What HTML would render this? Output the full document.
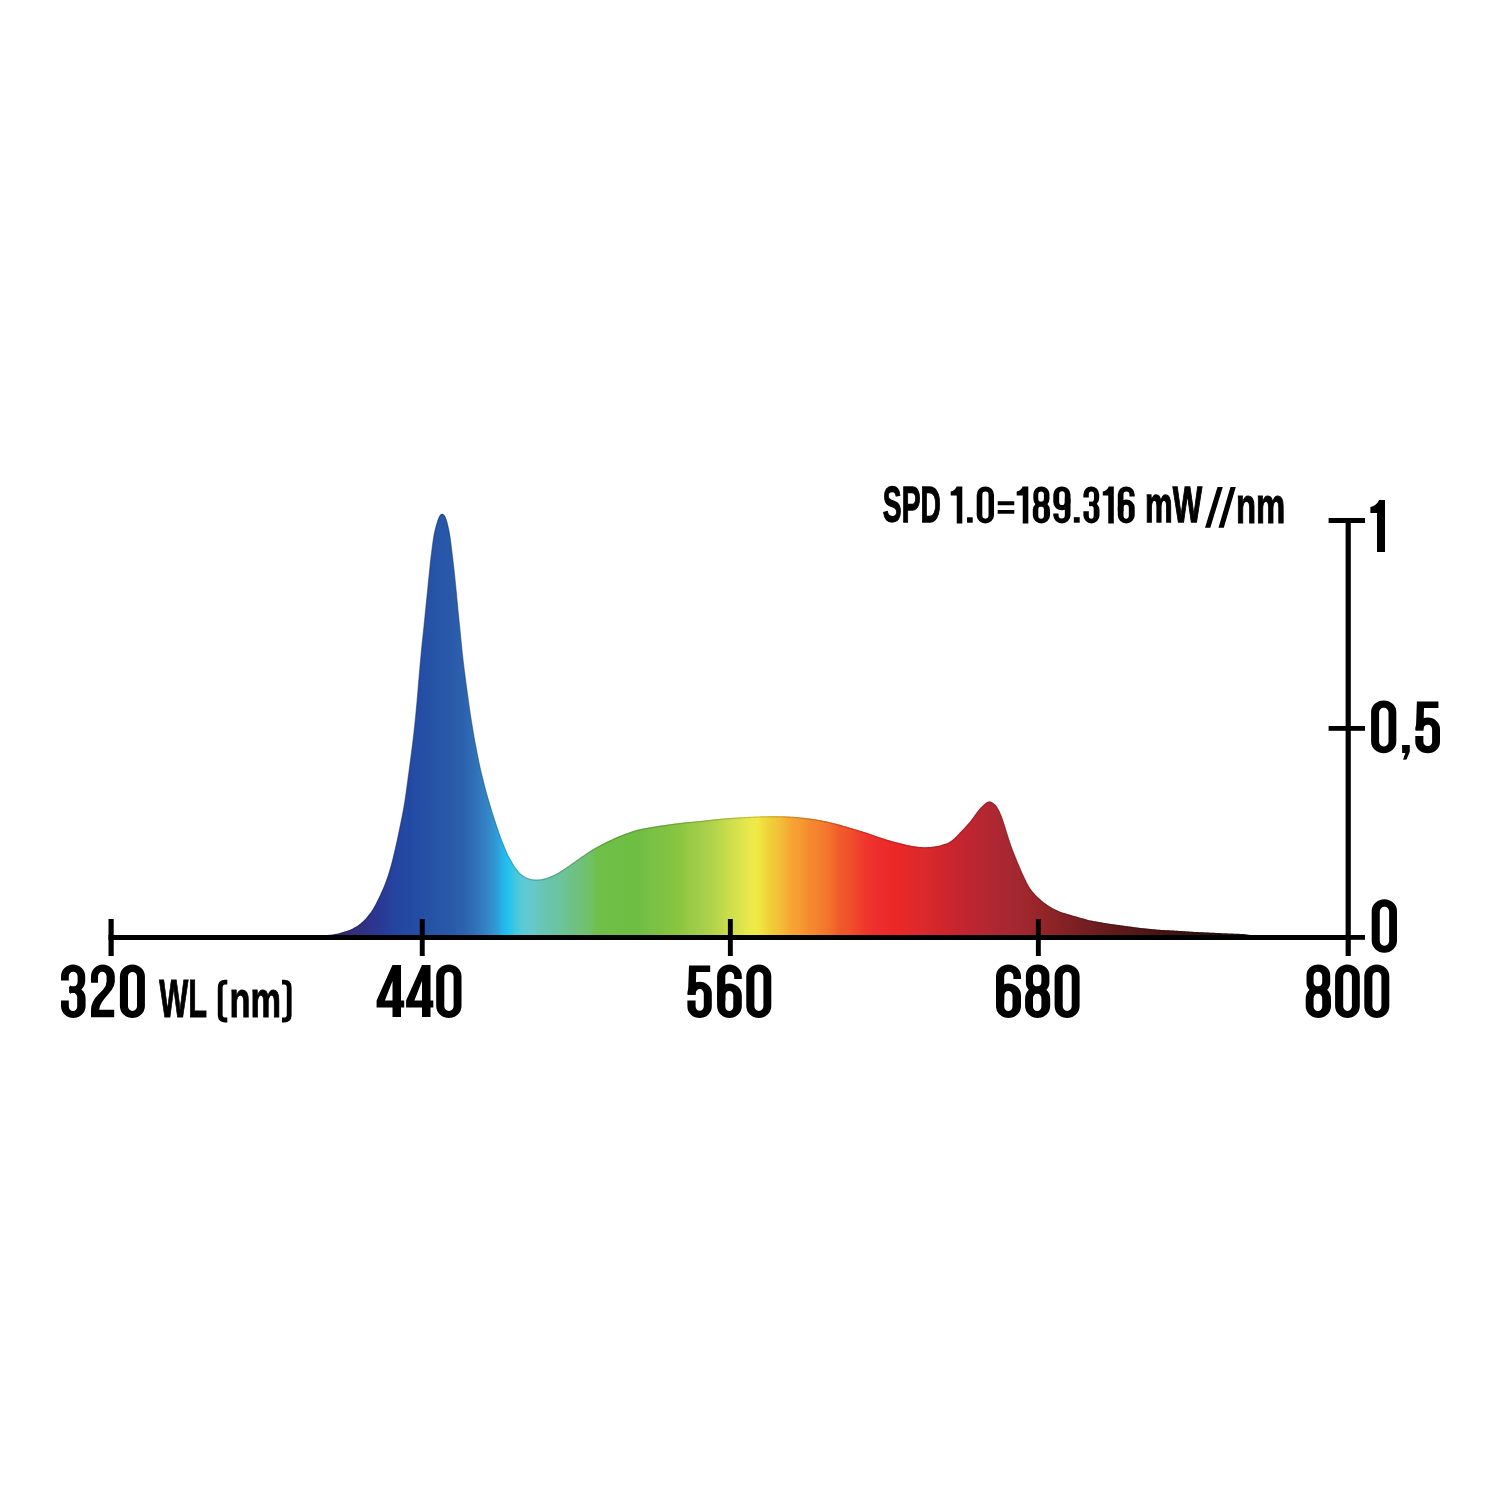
<!DOCTYPE html>
<html><head><meta charset="utf-8"><style>
html,body{margin:0;padding:0;background:#fff;width:1500px;height:1500px;overflow:hidden}
svg{display:block;will-change:transform}
text{font-family:"Liberation Sans",sans-serif;font-weight:bold;fill:#000}
</style></head><body>
<svg width="1500" height="1500" viewBox="0 0 1500 1500">
<defs>
<linearGradient id="g" gradientUnits="userSpaceOnUse" x1="316" y1="0" x2="1252" y2="0">
<stop offset="0.0000" stop-color="#2a2458"/>
<stop offset="0.0203" stop-color="#2c2763"/>
<stop offset="0.0310" stop-color="#322c72"/>
<stop offset="0.0417" stop-color="#30307c"/>
<stop offset="0.0524" stop-color="#2e3286"/>
<stop offset="0.0630" stop-color="#2c3690"/>
<stop offset="0.0737" stop-color="#283c98"/>
<stop offset="0.0844" stop-color="#2444a0"/>
<stop offset="0.0951" stop-color="#2349a2"/>
<stop offset="0.1111" stop-color="#244ea5"/>
<stop offset="0.1271" stop-color="#2754a7"/>
<stop offset="0.1432" stop-color="#2958a9"/>
<stop offset="0.1592" stop-color="#2d63ae"/>
<stop offset="0.1699" stop-color="#3070b8"/>
<stop offset="0.1827" stop-color="#3484c6"/>
<stop offset="0.1934" stop-color="#2e9dd8"/>
<stop offset="0.1987" stop-color="#2ab0e6"/>
<stop offset="0.2051" stop-color="#20c3f1"/>
<stop offset="0.2137" stop-color="#45c8dc"/>
<stop offset="0.2222" stop-color="#5ecad8"/>
<stop offset="0.2308" stop-color="#66c8cb"/>
<stop offset="0.2415" stop-color="#68c6b8"/>
<stop offset="0.2500" stop-color="#69c4ac"/>
<stop offset="0.2607" stop-color="#6cc49b"/>
<stop offset="0.2714" stop-color="#6ec28a"/>
<stop offset="0.2821" stop-color="#6fc17a"/>
<stop offset="0.2927" stop-color="#70c166"/>
<stop offset="0.3002" stop-color="#70bf4c"/>
<stop offset="0.3088" stop-color="#6fbe45"/>
<stop offset="0.3462" stop-color="#6fbe44"/>
<stop offset="0.3568" stop-color="#78c046"/>
<stop offset="0.3729" stop-color="#80c243"/>
<stop offset="0.3889" stop-color="#8ac63f"/>
<stop offset="0.3996" stop-color="#98cb46"/>
<stop offset="0.4103" stop-color="#a3cd4a"/>
<stop offset="0.4263" stop-color="#b4d44b"/>
<stop offset="0.4370" stop-color="#c5db4b"/>
<stop offset="0.4476" stop-color="#d4e04c"/>
<stop offset="0.4583" stop-color="#e3e64c"/>
<stop offset="0.4658" stop-color="#eee94b"/>
<stop offset="0.4722" stop-color="#f0e944"/>
<stop offset="0.4797" stop-color="#f0d93e"/>
<stop offset="0.4850" stop-color="#efcf38"/>
<stop offset="0.4957" stop-color="#f2bf38"/>
<stop offset="0.5064" stop-color="#f6a734"/>
<stop offset="0.5171" stop-color="#f79a31"/>
<stop offset="0.5278" stop-color="#f58a2f"/>
<stop offset="0.5385" stop-color="#f47f2e"/>
<stop offset="0.5491" stop-color="#f3702d"/>
<stop offset="0.5598" stop-color="#ef5a2c"/>
<stop offset="0.5705" stop-color="#f0502a"/>
<stop offset="0.5812" stop-color="#ef3f2b"/>
<stop offset="0.5919" stop-color="#ee322c"/>
<stop offset="0.6026" stop-color="#ec2c2d"/>
<stop offset="0.6186" stop-color="#ec2826"/>
<stop offset="0.6346" stop-color="#e3282a"/>
<stop offset="0.6506" stop-color="#da292b"/>
<stop offset="0.6667" stop-color="#d2262b"/>
<stop offset="0.6827" stop-color="#c8252f"/>
<stop offset="0.6987" stop-color="#be2530"/>
<stop offset="0.7147" stop-color="#b42732"/>
<stop offset="0.7308" stop-color="#ab2732"/>
<stop offset="0.7521" stop-color="#a22830"/>
<stop offset="0.7735" stop-color="#962529"/>
<stop offset="0.7949" stop-color="#862226"/>
<stop offset="0.8162" stop-color="#781f22"/>
<stop offset="0.8376" stop-color="#6a1c1f"/>
<stop offset="0.8697" stop-color="#581818"/>
<stop offset="0.9017" stop-color="#461414"/>
<stop offset="0.9444" stop-color="#341010"/>
<stop offset="0.9872" stop-color="#220b0b"/>
<stop offset="1.0000" stop-color="#1e0a0a"/>
</linearGradient>
<linearGradient id="g2" gradientUnits="userSpaceOnUse" x1="316" y1="0" x2="1252" y2="0">
<stop offset="0.0000" stop-color="#1e193f"/>
<stop offset="0.0203" stop-color="#1f1c47"/>
<stop offset="0.0310" stop-color="#241f52"/>
<stop offset="0.0417" stop-color="#222259"/>
<stop offset="0.0524" stop-color="#212460"/>
<stop offset="0.0630" stop-color="#1f2667"/>
<stop offset="0.0737" stop-color="#1c2b6d"/>
<stop offset="0.0844" stop-color="#193073"/>
<stop offset="0.0951" stop-color="#193474"/>
<stop offset="0.1111" stop-color="#193876"/>
<stop offset="0.1271" stop-color="#1c3c78"/>
<stop offset="0.1432" stop-color="#1d3f79"/>
<stop offset="0.1592" stop-color="#20477d"/>
<stop offset="0.1699" stop-color="#225084"/>
<stop offset="0.1827" stop-color="#255f8e"/>
<stop offset="0.1934" stop-color="#21719b"/>
<stop offset="0.1987" stop-color="#1e7ea5"/>
<stop offset="0.2051" stop-color="#178cad"/>
<stop offset="0.2137" stop-color="#31909e"/>
<stop offset="0.2222" stop-color="#43919b"/>
<stop offset="0.2308" stop-color="#499092"/>
<stop offset="0.2415" stop-color="#4a8e84"/>
<stop offset="0.2500" stop-color="#4b8d7b"/>
<stop offset="0.2607" stop-color="#4d8d6f"/>
<stop offset="0.2714" stop-color="#4f8b63"/>
<stop offset="0.2821" stop-color="#4f8a57"/>
<stop offset="0.2927" stop-color="#508a49"/>
<stop offset="0.3002" stop-color="#508936"/>
<stop offset="0.3088" stop-color="#4f8831"/>
<stop offset="0.3462" stop-color="#4f8830"/>
<stop offset="0.3568" stop-color="#568a32"/>
<stop offset="0.3729" stop-color="#5c8b30"/>
<stop offset="0.3889" stop-color="#638e2d"/>
<stop offset="0.3996" stop-color="#6d9232"/>
<stop offset="0.4103" stop-color="#759335"/>
<stop offset="0.4263" stop-color="#819836"/>
<stop offset="0.4370" stop-color="#8d9d36"/>
<stop offset="0.4476" stop-color="#98a136"/>
<stop offset="0.4583" stop-color="#a3a536"/>
<stop offset="0.4658" stop-color="#aba736"/>
<stop offset="0.4722" stop-color="#aca730"/>
<stop offset="0.4797" stop-color="#ac9c2c"/>
<stop offset="0.4850" stop-color="#ac9528"/>
<stop offset="0.4957" stop-color="#ae8928"/>
<stop offset="0.5064" stop-color="#b17825"/>
<stop offset="0.5171" stop-color="#b16e23"/>
<stop offset="0.5278" stop-color="#b06321"/>
<stop offset="0.5385" stop-color="#af5b21"/>
<stop offset="0.5491" stop-color="#ae5020"/>
<stop offset="0.5598" stop-color="#ac401f"/>
<stop offset="0.5705" stop-color="#ac391e"/>
<stop offset="0.5812" stop-color="#ac2d1e"/>
<stop offset="0.5919" stop-color="#ab241f"/>
<stop offset="0.6026" stop-color="#a91f20"/>
<stop offset="0.6186" stop-color="#a91c1b"/>
<stop offset="0.6346" stop-color="#a31c1e"/>
<stop offset="0.6506" stop-color="#9c1d1e"/>
<stop offset="0.6667" stop-color="#971b1e"/>
<stop offset="0.6827" stop-color="#901a21"/>
<stop offset="0.6987" stop-color="#881a22"/>
<stop offset="0.7147" stop-color="#811c24"/>
<stop offset="0.7308" stop-color="#7b1c24"/>
<stop offset="0.7521" stop-color="#741c22"/>
<stop offset="0.7735" stop-color="#6c1a1d"/>
<stop offset="0.7949" stop-color="#60181b"/>
<stop offset="0.8162" stop-color="#561618"/>
<stop offset="0.8376" stop-color="#4c1416"/>
<stop offset="0.8697" stop-color="#3f1111"/>
<stop offset="0.9017" stop-color="#320e0e"/>
<stop offset="0.9444" stop-color="#250b0b"/>
<stop offset="0.9872" stop-color="#180707"/>
<stop offset="1.0000" stop-color="#150707"/>
</linearGradient>
</defs>
<rect width="1500" height="1500" fill="#fff"/>
<path d="M316.0,935.44 L317.0,935.42 L318.0,935.39 L319.0,935.35 L320.0,935.30 L321.0,935.25 L322.0,935.20 L323.0,935.15 L324.0,935.10 L325.0,935.05 L326.0,935.00 L327.0,934.95 L328.0,934.90 L329.0,934.85 L330.0,934.79 L331.0,934.71 L332.0,934.60 L333.0,934.45 L334.0,934.26 L335.0,934.06 L336.0,933.85 L337.0,933.64 L338.0,933.42 L339.0,933.19 L340.0,932.95 L341.0,932.68 L342.0,932.39 L343.0,932.10 L344.0,931.80 L345.0,931.50 L346.0,931.20 L347.0,930.90 L348.0,930.58 L349.0,930.25 L350.0,929.86 L351.0,929.41 L352.0,928.90 L353.0,928.38 L354.0,927.84 L355.0,927.30 L356.0,926.75 L357.0,926.18 L358.0,925.56 L359.0,924.86 L360.0,924.07 L361.0,923.21 L362.0,922.31 L363.0,921.41 L364.0,920.48 L365.0,919.52 L366.0,918.46 L367.0,917.31 L368.0,916.08 L369.0,914.80 L370.0,913.49 L371.0,912.15 L372.0,910.73 L373.0,909.16 L374.0,907.45 L375.0,905.63 L376.0,903.75 L377.0,901.83 L378.0,899.86 L379.0,897.82 L380.0,895.72 L381.0,893.58 L382.0,891.37 L383.0,889.08 L384.0,886.68 L385.0,884.18 L386.0,881.58 L387.0,878.84 L388.0,875.93 L389.0,872.85 L390.0,869.58 L391.0,866.08 L392.0,862.35 L393.0,858.39 L394.0,854.24 L395.0,849.99 L396.0,845.61 L397.0,841.13 L398.0,836.49 L399.0,831.70 L400.0,826.84 L401.0,821.93 L402.0,816.97 L403.0,811.87 L404.0,806.43 L405.0,800.31 L406.0,793.48 L407.0,786.23 L408.0,778.85 L409.0,771.41 L410.0,763.92 L411.0,756.38 L412.0,748.74 L413.0,740.78 L414.0,732.16 L415.0,722.74 L416.0,712.67 L417.0,701.89 L418.0,690.32 L419.0,678.34 L420.0,666.60 L421.0,655.50 L422.0,645.22 L423.0,635.70 L424.0,626.29 L425.0,616.28 L426.0,606.12 L427.0,596.39 L428.0,586.53 L429.0,576.26 L430.0,566.41 L431.0,557.47 L432.0,549.18 L433.0,541.70 L434.0,534.99 L435.0,530.32 L436.0,526.53 L437.0,523.07 L438.0,519.80 L439.0,517.13 L440.0,515.34 L441.0,514.20 L442.0,513.69 L443.0,513.98 L444.0,514.88 L445.0,516.35 L446.0,518.70 L447.0,522.10 L448.0,526.19 L449.0,530.77 L450.0,536.57 L451.0,544.48 L452.0,552.64 L453.0,561.09 L454.0,569.87 L455.0,579.28 L456.0,589.36 L457.0,599.94 L458.0,610.51 L459.0,620.51 L460.0,630.33 L461.0,640.49 L462.0,650.54 L463.0,659.71 L464.0,667.93 L465.0,675.63 L466.0,683.16 L467.0,690.60 L468.0,697.96 L469.0,705.17 L470.0,712.06 L471.0,718.54 L472.0,724.75 L473.0,730.80 L474.0,736.66 L475.0,742.21 L476.0,747.43 L477.0,752.49 L478.0,757.48 L479.0,762.38 L480.0,767.07 L481.0,771.44 L482.0,775.57 L483.0,779.59 L484.0,783.57 L485.0,787.47 L486.0,791.21 L487.0,794.76 L488.0,798.20 L489.0,801.60 L490.0,804.99 L491.0,808.36 L492.0,811.66 L493.0,814.84 L494.0,817.93 L495.0,820.97 L496.0,824.00 L497.0,827.02 L498.0,830.03 L499.0,832.97 L500.0,835.76 L501.0,838.40 L502.0,840.93 L503.0,843.43 L504.0,845.92 L505.0,848.40 L506.0,850.83 L507.0,853.11 L508.0,855.16 L509.0,857.02 L510.0,858.79 L511.0,860.54 L512.0,862.28 L513.0,864.01 L514.0,865.67 L515.0,867.19 L516.0,868.55 L517.0,869.81 L518.0,871.03 L519.0,872.20 L520.0,873.23 L521.0,874.09 L522.0,874.82 L523.0,875.50 L524.0,876.16 L525.0,876.78 L526.0,877.33 L527.0,877.75 L528.0,878.09 L529.0,878.40 L530.0,878.71 L531.0,878.92 L532.0,879.15 L533.0,879.34 L534.0,879.47 L535.0,879.55 L536.0,879.59 L537.0,879.59 L538.0,879.55 L539.0,879.48 L540.0,879.38 L541.0,879.23 L542.0,879.05 L543.0,878.84 L544.0,878.60 L545.0,878.34 L546.0,878.06 L547.0,877.74 L548.0,877.41 L549.0,877.04 L550.0,876.66 L551.0,876.26 L552.0,875.83 L553.0,875.40 L554.0,874.94 L555.0,874.46 L556.0,873.97 L557.0,873.47 L558.0,872.94 L559.0,872.39 L560.0,871.59 L561.0,871.00 L562.0,870.38 L563.0,869.75 L564.0,869.10 L565.0,868.44 L566.0,867.77 L567.0,867.09 L568.0,866.40 L569.0,865.71 L570.0,865.01 L571.0,864.32 L572.0,863.62 L573.0,862.92 L574.0,862.21 L575.0,861.51 L576.0,860.81 L577.0,860.11 L578.0,859.41 L579.0,858.71 L580.0,858.01 L581.0,857.31 L582.0,856.61 L583.0,855.91 L584.0,855.22 L585.0,854.53 L586.0,853.85 L587.0,853.17 L588.0,852.50 L589.0,851.84 L590.0,851.19 L591.0,850.55 L592.0,849.93 L593.0,849.32 L594.0,848.72 L595.0,848.13 L596.0,847.56 L597.0,847.00 L598.0,846.45 L599.0,845.91 L600.0,845.38 L601.0,844.85 L602.0,844.33 L603.0,843.82 L604.0,843.31 L605.0,842.81 L606.0,842.31 L607.0,841.81 L608.0,841.32 L609.0,840.84 L610.0,840.36 L611.0,839.89 L612.0,839.42 L613.0,838.96 L614.0,838.50 L615.0,838.06 L616.0,837.62 L617.0,837.19 L618.0,836.76 L619.0,836.34 L620.0,835.93 L621.0,835.53 L622.0,835.13 L623.0,834.74 L624.0,834.36 L625.0,833.98 L626.0,833.61 L627.0,833.24 L628.0,832.88 L629.0,832.52 L630.0,832.18 L631.0,831.84 L632.0,831.50 L633.0,831.18 L634.0,830.87 L635.0,830.57 L636.0,830.28 L637.0,830.00 L638.0,829.73 L639.0,829.48 L640.0,829.24 L641.0,829.01 L642.0,828.79 L643.0,828.58 L644.0,828.38 L645.0,828.19 L646.0,828.00 L647.0,827.82 L648.0,827.64 L649.0,827.46 L650.0,827.29 L651.0,827.13 L652.0,826.96 L653.0,826.80 L654.0,826.64 L655.0,826.48 L656.0,826.32 L657.0,826.16 L658.0,826.01 L659.0,825.86 L660.0,825.71 L661.0,825.56 L662.0,825.41 L663.0,825.26 L664.0,825.12 L665.0,824.97 L666.0,824.83 L667.0,824.69 L668.0,824.54 L669.0,824.40 L670.0,824.27 L671.0,824.13 L672.0,823.99 L673.0,823.86 L674.0,823.72 L675.0,823.59 L676.0,823.46 L677.0,823.34 L678.0,823.21 L679.0,823.09 L680.0,822.98 L681.0,822.86 L682.0,822.75 L683.0,822.64 L684.0,822.53 L685.0,822.43 L686.0,822.32 L687.0,822.22 L688.0,822.12 L689.0,822.02 L690.0,821.92 L691.0,821.83 L692.0,821.73 L693.0,821.63 L694.0,821.53 L695.0,821.44 L696.0,821.34 L697.0,821.24 L698.0,821.14 L699.0,821.04 L700.0,820.95 L701.0,820.85 L702.0,820.75 L703.0,820.64 L704.0,820.54 L705.0,820.44 L706.0,820.33 L707.0,820.22 L708.0,820.11 L709.0,820.00 L710.0,819.89 L711.0,819.77 L712.0,819.66 L713.0,819.54 L714.0,819.43 L715.0,819.32 L716.0,819.21 L717.0,819.10 L718.0,818.99 L719.0,818.89 L720.0,818.79 L721.0,818.69 L722.0,818.60 L723.0,818.51 L724.0,818.43 L725.0,818.34 L726.0,818.26 L727.0,818.19 L728.0,818.11 L729.0,818.03 L730.0,817.96 L731.0,817.89 L732.0,817.82 L733.0,817.75 L734.0,817.68 L735.0,817.62 L736.0,817.55 L737.0,817.49 L738.0,817.43 L739.0,817.37 L740.0,817.31 L741.0,817.25 L742.0,817.19 L743.0,817.13 L744.0,817.08 L745.0,817.02 L746.0,816.97 L747.0,816.91 L748.0,816.86 L749.0,816.81 L750.0,816.76 L751.0,816.72 L752.0,816.67 L753.0,816.62 L754.0,816.58 L755.0,816.54 L756.0,816.49 L757.0,816.45 L758.0,816.42 L759.0,816.38 L760.0,816.35 L761.0,816.31 L762.0,816.28 L763.0,816.25 L764.0,816.23 L765.0,816.20 L766.0,816.18 L767.0,816.16 L768.0,816.14 L769.0,816.12 L770.0,816.11 L771.0,816.10 L772.0,816.09 L773.0,816.09 L774.0,816.09 L775.0,816.10 L776.0,816.10 L777.0,816.12 L778.0,816.13 L779.0,816.15 L780.0,816.17 L781.0,816.20 L782.0,816.22 L783.0,816.25 L784.0,816.29 L785.0,816.33 L786.0,816.37 L787.0,816.42 L788.0,816.47 L789.0,816.53 L790.0,816.59 L791.0,816.66 L792.0,816.72 L793.0,816.80 L794.0,816.87 L795.0,816.95 L796.0,817.03 L797.0,817.11 L798.0,817.20 L799.0,817.29 L800.0,817.39 L801.0,817.49 L802.0,817.59 L803.0,817.70 L804.0,817.81 L805.0,817.93 L806.0,818.04 L807.0,818.16 L808.0,818.29 L809.0,818.42 L810.0,818.55 L811.0,818.69 L812.0,818.83 L813.0,818.97 L814.0,819.12 L815.0,819.28 L816.0,819.44 L817.0,819.61 L818.0,819.78 L819.0,819.95 L820.0,820.13 L821.0,820.31 L822.0,820.50 L823.0,820.69 L824.0,820.89 L825.0,821.09 L826.0,821.30 L827.0,821.52 L828.0,821.74 L829.0,821.97 L830.0,822.20 L831.0,822.44 L832.0,822.69 L833.0,822.94 L834.0,823.19 L835.0,823.45 L836.0,823.71 L837.0,823.97 L838.0,824.24 L839.0,824.51 L840.0,824.79 L841.0,825.07 L842.0,825.35 L843.0,825.64 L844.0,825.93 L845.0,826.22 L846.0,826.52 L847.0,826.81 L848.0,827.11 L849.0,827.41 L850.0,827.71 L851.0,828.01 L852.0,828.31 L853.0,828.61 L854.0,828.91 L855.0,829.21 L856.0,829.51 L857.0,829.81 L858.0,830.11 L859.0,830.41 L860.0,830.71 L861.0,831.02 L862.0,831.33 L863.0,831.64 L864.0,831.96 L865.0,832.28 L866.0,832.61 L867.0,832.94 L868.0,833.28 L869.0,833.62 L870.0,833.97 L871.0,834.32 L872.0,834.67 L873.0,835.03 L874.0,835.38 L875.0,835.74 L876.0,836.09 L877.0,836.44 L878.0,836.79 L879.0,837.13 L880.0,837.46 L881.0,837.79 L882.0,838.12 L883.0,838.44 L884.0,838.76 L885.0,839.07 L886.0,839.38 L887.0,839.68 L888.0,839.98 L889.0,840.28 L890.0,840.57 L891.0,840.86 L892.0,841.15 L893.0,841.43 L894.0,841.71 L895.0,841.98 L896.0,842.25 L897.0,842.52 L898.0,842.78 L899.0,843.04 L900.0,843.29 L901.0,843.54 L902.0,843.79 L903.0,844.03 L904.0,844.26 L905.0,844.49 L906.0,844.71 L907.0,844.93 L908.0,845.14 L909.0,845.34 L910.0,845.54 L911.0,845.73 L912.0,845.91 L913.0,846.08 L914.0,846.24 L915.0,846.40 L916.0,846.54 L917.0,846.66 L918.0,846.78 L919.0,846.88 L920.0,846.97 L921.0,847.04 L922.0,847.09 L923.0,847.13 L924.0,847.15 L925.0,847.16 L926.0,847.15 L927.0,847.13 L928.0,847.10 L929.0,847.05 L930.0,846.98 L931.0,846.91 L932.0,846.81 L933.0,846.70 L934.0,846.58 L935.0,846.44 L936.0,846.28 L937.0,846.10 L938.0,845.90 L939.0,845.68 L940.0,845.44 L941.0,845.17 L942.0,844.87 L943.0,844.54 L944.0,844.17 L945.0,843.77 L946.0,843.83 L947.0,843.37 L948.0,842.84 L949.0,842.26 L950.0,841.65 L951.0,840.99 L952.0,840.28 L953.0,839.50 L954.0,838.66 L955.0,837.76 L956.0,836.80 L957.0,835.78 L958.0,834.73 L959.0,833.66 L960.0,832.59 L961.0,831.55 L962.0,830.51 L963.0,829.49 L964.0,828.45 L965.0,827.40 L966.0,826.31 L967.0,825.20 L968.0,824.06 L969.0,822.90 L970.0,821.70 L971.0,820.46 L972.0,819.16 L973.0,817.80 L974.0,816.42 L975.0,815.02 L976.0,813.64 L977.0,812.30 L978.0,811.01 L979.0,809.78 L980.0,808.59 L981.0,807.47 L982.0,806.41 L983.0,805.43 L984.0,804.44 L985.0,803.64 L986.0,802.87 L987.0,802.22 L988.0,801.77 L989.0,801.58 L989.5,801.56 L990.0,801.59 L991.0,801.80 L992.0,802.27 L993.0,802.95 L994.0,803.72 L995.0,804.57 L996.0,805.58 L997.0,807.22 L998.0,808.79 L999.0,810.63 L1000.0,812.74 L1001.0,815.14 L1002.0,817.81 L1003.0,820.71 L1004.0,823.79 L1005.0,826.99 L1006.0,830.23 L1007.0,833.47 L1008.0,836.66 L1009.0,839.77 L1010.0,842.78 L1011.0,845.68 L1012.0,848.45 L1013.0,851.10 L1014.0,853.65 L1015.0,856.13 L1016.0,858.57 L1017.0,860.99 L1018.0,863.41 L1019.0,865.79 L1020.0,868.14 L1021.0,870.44 L1022.0,872.69 L1023.0,874.90 L1024.0,877.06 L1025.0,879.18 L1026.0,881.25 L1027.0,883.23 L1028.0,885.10 L1029.0,886.80 L1030.0,888.32 L1031.0,889.70 L1032.0,890.96 L1033.0,892.15 L1034.0,893.29 L1035.0,894.39 L1036.0,895.44 L1037.0,896.45 L1038.0,897.43 L1039.0,898.37 L1040.0,899.30 L1041.0,900.23 L1042.0,901.10 L1043.0,901.90 L1044.0,902.65 L1045.0,903.36 L1046.0,904.05 L1047.0,904.74 L1048.0,905.43 L1049.0,906.11 L1050.0,906.76 L1051.0,907.37 L1052.0,907.93 L1053.0,908.44 L1054.0,908.93 L1055.0,909.41 L1056.0,909.89 L1057.0,910.36 L1058.0,910.83 L1059.0,911.28 L1060.0,911.69 L1061.0,912.06 L1062.0,912.39 L1063.0,912.70 L1064.0,913.00 L1065.0,913.30 L1066.0,913.60 L1067.0,913.90 L1068.0,914.20 L1069.0,914.50 L1070.0,914.80 L1071.0,915.10 L1072.0,915.39 L1073.0,915.68 L1074.0,915.97 L1075.0,916.25 L1076.0,916.53 L1077.0,916.82 L1078.0,917.10 L1079.0,917.38 L1080.0,917.67 L1081.0,917.95 L1082.0,918.23 L1083.0,918.52 L1084.0,918.80 L1085.0,919.08 L1086.0,919.36 L1087.0,919.64 L1088.0,919.91 L1089.0,920.17 L1090.0,920.39 L1091.0,920.59 L1092.0,920.78 L1093.0,920.96 L1094.0,921.14 L1095.0,921.32 L1096.0,921.49 L1097.0,921.67 L1098.0,921.85 L1099.0,922.03 L1100.0,922.21 L1101.0,922.38 L1102.0,922.56 L1103.0,922.74 L1104.0,922.92 L1105.0,923.09 L1106.0,923.26 L1107.0,923.42 L1108.0,923.57 L1109.0,923.72 L1110.0,923.86 L1111.0,924.00 L1112.0,924.14 L1113.0,924.27 L1114.0,924.41 L1115.0,924.55 L1116.0,924.69 L1117.0,924.83 L1118.0,924.97 L1119.0,925.11 L1120.0,925.25 L1121.0,925.38 L1122.0,925.52 L1123.0,925.66 L1124.0,925.80 L1125.0,925.93 L1126.0,926.07 L1127.0,926.20 L1128.0,926.33 L1129.0,926.46 L1130.0,926.60 L1131.0,926.73 L1132.0,926.86 L1133.0,927.00 L1134.0,927.13 L1135.0,927.26 L1136.0,927.40 L1137.0,927.53 L1138.0,927.66 L1139.0,927.79 L1140.0,927.92 L1141.0,928.04 L1142.0,928.16 L1143.0,928.26 L1144.0,928.36 L1145.0,928.46 L1146.0,928.56 L1147.0,928.66 L1148.0,928.75 L1149.0,928.85 L1150.0,928.95 L1151.0,929.05 L1152.0,929.15 L1153.0,929.24 L1154.0,929.34 L1155.0,929.44 L1156.0,929.54 L1157.0,929.63 L1158.0,929.72 L1159.0,929.79 L1160.0,929.86 L1161.0,929.92 L1162.0,929.97 L1163.0,930.02 L1164.0,930.08 L1165.0,930.13 L1166.0,930.18 L1167.0,930.23 L1168.0,930.28 L1169.0,930.34 L1170.0,930.39 L1171.0,930.44 L1172.0,930.49 L1173.0,930.54 L1174.0,930.60 L1175.0,930.65 L1176.0,930.71 L1177.0,930.77 L1178.0,930.84 L1179.0,930.91 L1180.0,930.98 L1181.0,931.05 L1182.0,931.12 L1183.0,931.19 L1184.0,931.25 L1185.0,931.32 L1186.0,931.39 L1187.0,931.46 L1188.0,931.53 L1189.0,931.60 L1190.0,931.67 L1191.0,931.74 L1192.0,931.81 L1193.0,931.87 L1194.0,931.92 L1195.0,931.98 L1196.0,932.02 L1197.0,932.07 L1198.0,932.12 L1199.0,932.16 L1200.0,932.21 L1201.0,932.25 L1202.0,932.30 L1203.0,932.35 L1204.0,932.39 L1205.0,932.44 L1206.0,932.48 L1207.0,932.53 L1208.0,932.58 L1209.0,932.62 L1210.0,932.67 L1211.0,932.71 L1212.0,932.75 L1213.0,932.79 L1214.0,932.83 L1215.0,932.87 L1216.0,932.91 L1217.0,932.95 L1218.0,933.00 L1219.0,933.04 L1220.0,933.08 L1221.0,933.12 L1222.0,933.16 L1223.0,933.20 L1224.0,933.24 L1225.0,933.28 L1226.0,933.32 L1227.0,933.36 L1228.0,933.40 L1229.0,933.44 L1230.0,933.48 L1231.0,933.52 L1232.0,933.56 L1233.0,933.60 L1234.0,933.64 L1235.0,933.68 L1236.0,933.72 L1237.0,933.76 L1238.0,933.80 L1239.0,933.85 L1240.0,933.89 L1241.0,933.93 L1242.0,933.97 L1243.0,934.01 L1244.0,934.07 L1245.0,934.17 L1246.0,934.30 L1247.0,934.47 L1248.0,934.66 L1249.0,934.86 L1250.0,935.03 L1251.0,935.17 L1252.0,935.27 L1252.0,937 L316.0,937 Z" fill="url(#g)"/>
<path d="M340.0,933.65 L341.0,933.38 L342.0,933.09 L343.0,932.80 L344.0,932.50 L345.0,932.20 L346.0,931.90 L347.0,931.60 L348.0,931.28 L349.0,930.95 L350.0,930.56 L351.0,930.11 L352.0,929.60 L353.0,929.08 L354.0,928.54 L355.0,928.00 L356.0,927.45 L357.0,926.88 L358.0,926.26 L359.0,925.56 L360.0,924.77 L361.0,923.91 L362.0,923.01 L363.0,922.11 L364.0,921.18 L365.0,920.22 L366.0,919.16 L367.0,918.01 L368.0,916.78 L369.0,915.50 L370.0,914.19 L371.0,912.85 L372.0,911.43 L373.0,909.86 L374.0,908.15 L375.0,906.33 L376.0,904.45 L377.0,902.53 L378.0,900.56 L379.0,898.52 L380.0,896.42 L381.0,894.28 L382.0,892.07 L383.0,889.78 L384.0,887.38 L385.0,884.88 L386.0,882.28 L387.0,879.54 L388.0,876.63 L389.0,873.55 L390.0,870.28 L391.0,866.78 L392.0,863.05 L393.0,859.09 L394.0,854.94 L395.0,850.69 L396.0,846.31 L397.0,841.83 L398.0,837.19 L399.0,832.40 L400.0,827.54 L401.0,822.63 L402.0,817.67 L403.0,812.57 L404.0,807.13 L405.0,801.01 L406.0,794.18 L407.0,786.93 L408.0,779.55 L409.0,772.11 L410.0,764.62 L411.0,757.08 L412.0,749.44 L413.0,741.48 L414.0,732.86 L415.0,723.44 L416.0,713.37 L417.0,702.59 L418.0,691.02 L419.0,679.04 L420.0,667.30 L421.0,656.20 L422.0,645.92 L423.0,636.40 L424.0,626.99 L425.0,616.98 L426.0,606.82 L427.0,597.09 L428.0,587.23 L429.0,576.96 L430.0,567.11 L431.0,558.17 L432.0,549.88 L433.0,542.40 L434.0,535.69 L435.0,531.02 L436.0,527.23 L437.0,523.77 L438.0,520.50 L439.0,517.83 L440.0,516.04 L441.0,514.90 L442.0,514.39 L443.0,514.68 L444.0,515.58 L445.0,517.05 L446.0,519.40 L447.0,522.80 L448.0,526.89 L449.0,531.47 L450.0,537.27 L451.0,545.18 L452.0,553.34 L453.0,561.79 L454.0,570.57 L455.0,579.98 L456.0,590.06 L457.0,600.64 L458.0,611.21 L459.0,621.21 L460.0,631.03 L461.0,641.19 L462.0,651.24 L463.0,660.41 L464.0,668.63 L465.0,676.33 L466.0,683.86 L467.0,691.30 L468.0,698.66 L469.0,705.87 L470.0,712.76 L471.0,719.24 L472.0,725.45 L473.0,731.50 L474.0,737.36 L475.0,742.91 L476.0,748.13 L477.0,753.19 L478.0,758.18 L479.0,763.08 L480.0,767.77 L481.0,772.14 L482.0,776.27 L483.0,780.29 L484.0,784.27 L485.0,788.17 L486.0,791.91 L487.0,795.46 L488.0,798.90 L489.0,802.30 L490.0,805.69 L491.0,809.06 L492.0,812.36 L493.0,815.54 L494.0,818.63 L495.0,821.67 L496.0,824.70 L497.0,827.72 L498.0,830.73 L499.0,833.67 L500.0,836.46 L501.0,839.10 L502.0,841.63 L503.0,844.13 L504.0,846.62 L505.0,849.10 L506.0,851.53 L507.0,853.81 L508.0,855.86 L509.0,857.72 L510.0,859.49 L511.0,861.24 L512.0,862.98 L513.0,864.71 L514.0,866.37 L515.0,867.89 L516.0,869.25 L517.0,870.51 L518.0,871.73 L519.0,872.90 L520.0,873.93 L521.0,874.79 L522.0,875.52 L523.0,876.20 L524.0,876.86 L525.0,877.48 L526.0,878.03 L527.0,878.45 L528.0,878.79 L529.0,879.10 L530.0,879.41 L531.0,879.62 L532.0,879.85 L533.0,880.04 L534.0,880.17 L535.0,880.25 L536.0,880.29 L537.0,880.29 L538.0,880.25 L539.0,880.18 L540.0,880.08 L541.0,879.93 L542.0,879.75 L543.0,879.54 L544.0,879.30 L545.0,879.04 L546.0,878.76 L547.0,878.44 L548.0,878.11 L549.0,877.74 L550.0,877.36 L551.0,876.96 L552.0,876.53 L553.0,876.10 L554.0,875.64 L555.0,875.16 L556.0,874.67 L557.0,874.17 L558.0,873.64 L559.0,873.09 L560.0,872.29 L561.0,871.70 L562.0,871.08 L563.0,870.45 L564.0,869.80 L565.0,869.14 L566.0,868.47 L567.0,867.79 L568.0,867.10 L569.0,866.41 L570.0,865.71 L571.0,865.02 L572.0,864.32 L573.0,863.62 L574.0,862.91 L575.0,862.21 L576.0,861.51 L577.0,860.81 L578.0,860.11 L579.0,859.41 L580.0,858.71 L581.0,858.01 L582.0,857.31 L583.0,856.61 L584.0,855.92 L585.0,855.23 L586.0,854.55 L587.0,853.87 L588.0,853.20 L589.0,852.54 L590.0,851.89 L591.0,851.25 L592.0,850.63 L593.0,850.02 L594.0,849.42 L595.0,848.83 L596.0,848.26 L597.0,847.70 L598.0,847.15 L599.0,846.61 L600.0,846.08 L601.0,845.55 L602.0,845.03 L603.0,844.52 L604.0,844.01 L605.0,843.51 L606.0,843.01 L607.0,842.51 L608.0,842.02 L609.0,841.54 L610.0,841.06 L611.0,840.59 L612.0,840.12 L613.0,839.66 L614.0,839.20 L615.0,838.76 L616.0,838.32 L617.0,837.89 L618.0,837.46 L619.0,837.04 L620.0,836.63 L621.0,836.23 L622.0,835.83 L623.0,835.44 L624.0,835.06 L625.0,834.68 L626.0,834.31 L627.0,833.94 L628.0,833.58 L629.0,833.22 L630.0,832.88 L631.0,832.54 L632.0,832.20 L633.0,831.88 L634.0,831.57 L635.0,831.27 L636.0,830.98 L637.0,830.70 L638.0,830.43 L639.0,830.18 L640.0,829.94 L641.0,829.71 L642.0,829.49 L643.0,829.28 L644.0,829.08 L645.0,828.89 L646.0,828.70 L647.0,828.52 L648.0,828.34 L649.0,828.16 L650.0,827.99 L651.0,827.83 L652.0,827.66 L653.0,827.50 L654.0,827.34 L655.0,827.18 L656.0,827.02 L657.0,826.86 L658.0,826.71 L659.0,826.56 L660.0,826.41 L661.0,826.26 L662.0,826.11 L663.0,825.96 L664.0,825.82 L665.0,825.67 L666.0,825.53 L667.0,825.39 L668.0,825.24 L669.0,825.10 L670.0,824.97 L671.0,824.83 L672.0,824.69 L673.0,824.56 L674.0,824.42 L675.0,824.29 L676.0,824.16 L677.0,824.04 L678.0,823.91 L679.0,823.79 L680.0,823.68 L681.0,823.56 L682.0,823.45 L683.0,823.34 L684.0,823.23 L685.0,823.13 L686.0,823.02 L687.0,822.92 L688.0,822.82 L689.0,822.72 L690.0,822.62 L691.0,822.53 L692.0,822.43 L693.0,822.33 L694.0,822.23 L695.0,822.14 L696.0,822.04 L697.0,821.94 L698.0,821.84 L699.0,821.74 L700.0,821.65 L701.0,821.55 L702.0,821.45 L703.0,821.34 L704.0,821.24 L705.0,821.14 L706.0,821.03 L707.0,820.92 L708.0,820.81 L709.0,820.70 L710.0,820.59 L711.0,820.47 L712.0,820.36 L713.0,820.24 L714.0,820.13 L715.0,820.02 L716.0,819.91 L717.0,819.80 L718.0,819.69 L719.0,819.59 L720.0,819.49 L721.0,819.39 L722.0,819.30 L723.0,819.21 L724.0,819.13 L725.0,819.04 L726.0,818.96 L727.0,818.89 L728.0,818.81 L729.0,818.73 L730.0,818.66 L731.0,818.59 L732.0,818.52 L733.0,818.45 L734.0,818.38 L735.0,818.32 L736.0,818.25 L737.0,818.19 L738.0,818.13 L739.0,818.07 L740.0,818.01 L741.0,817.95 L742.0,817.89 L743.0,817.83 L744.0,817.78 L745.0,817.72 L746.0,817.67 L747.0,817.61 L748.0,817.56 L749.0,817.51 L750.0,817.46 L751.0,817.42 L752.0,817.37 L753.0,817.32 L754.0,817.28 L755.0,817.24 L756.0,817.19 L757.0,817.15 L758.0,817.12 L759.0,817.08 L760.0,817.05 L761.0,817.01 L762.0,816.98 L763.0,816.95 L764.0,816.93 L765.0,816.90 L766.0,816.88 L767.0,816.86 L768.0,816.84 L769.0,816.82 L770.0,816.81 L771.0,816.80 L772.0,816.79 L773.0,816.79 L774.0,816.79 L775.0,816.80 L776.0,816.80 L777.0,816.82 L778.0,816.83 L779.0,816.85 L780.0,816.87 L781.0,816.90 L782.0,816.92 L783.0,816.95 L784.0,816.99 L785.0,817.03 L786.0,817.07 L787.0,817.12 L788.0,817.17 L789.0,817.23 L790.0,817.29 L791.0,817.36 L792.0,817.42 L793.0,817.50 L794.0,817.57 L795.0,817.65 L796.0,817.73 L797.0,817.81 L798.0,817.90 L799.0,817.99 L800.0,818.09 L801.0,818.19 L802.0,818.29 L803.0,818.40 L804.0,818.51 L805.0,818.63 L806.0,818.74 L807.0,818.86 L808.0,818.99 L809.0,819.12 L810.0,819.25 L811.0,819.39 L812.0,819.53 L813.0,819.67 L814.0,819.82 L815.0,819.98 L816.0,820.14 L817.0,820.31 L818.0,820.48 L819.0,820.65 L820.0,820.83 L821.0,821.01 L822.0,821.20 L823.0,821.39 L824.0,821.59 L825.0,821.79 L826.0,822.00 L827.0,822.22 L828.0,822.44 L829.0,822.67 L830.0,822.90 L831.0,823.14 L832.0,823.39 L833.0,823.64 L834.0,823.89 L835.0,824.15 L836.0,824.41 L837.0,824.67 L838.0,824.94 L839.0,825.21 L840.0,825.49 L841.0,825.77 L842.0,826.05 L843.0,826.34 L844.0,826.63 L845.0,826.92 L846.0,827.22 L847.0,827.51 L848.0,827.81 L849.0,828.11 L850.0,828.41 L851.0,828.71 L852.0,829.01 L853.0,829.31 L854.0,829.61 L855.0,829.91 L856.0,830.21 L857.0,830.51 L858.0,830.81 L859.0,831.11 L860.0,831.41 L861.0,831.72 L862.0,832.03 L863.0,832.34 L864.0,832.66 L865.0,832.98 L866.0,833.31 L867.0,833.64 L868.0,833.98 L869.0,834.32 L870.0,834.67 L871.0,835.02 L872.0,835.37 L873.0,835.73 L874.0,836.08 L875.0,836.44 L876.0,836.79 L877.0,837.14 L878.0,837.49 L879.0,837.83 L880.0,838.16 L881.0,838.49 L882.0,838.82 L883.0,839.14 L884.0,839.46 L885.0,839.77 L886.0,840.08 L887.0,840.38 L888.0,840.68 L889.0,840.98 L890.0,841.27 L891.0,841.56 L892.0,841.85 L893.0,842.13 L894.0,842.41 L895.0,842.68 L896.0,842.95 L897.0,843.22 L898.0,843.48 L899.0,843.74 L900.0,843.99 L901.0,844.24 L902.0,844.49 L903.0,844.73 L904.0,844.96 L905.0,845.19 L906.0,845.41 L907.0,845.63 L908.0,845.84 L909.0,846.04 L910.0,846.24 L911.0,846.43 L912.0,846.61 L913.0,846.78 L914.0,846.94 L915.0,847.10 L916.0,847.24 L917.0,847.36 L918.0,847.48 L919.0,847.58 L920.0,847.67 L921.0,847.74 L922.0,847.79 L923.0,847.83 L924.0,847.85 L925.0,847.86 L926.0,847.85 L927.0,847.83 L928.0,847.80 L929.0,847.75 L930.0,847.68 L931.0,847.61 L932.0,847.51 L933.0,847.40 L934.0,847.28 L935.0,847.14 L936.0,846.98 L937.0,846.80 L938.0,846.60 L939.0,846.38 L940.0,846.14 L941.0,845.87 L942.0,845.57 L943.0,845.24 L944.0,844.87 L945.0,844.47 L946.0,844.53 L947.0,844.07 L948.0,843.54 L949.0,842.96 L950.0,842.35 L951.0,841.69 L952.0,840.98 L953.0,840.20 L954.0,839.36 L955.0,838.46 L956.0,837.50 L957.0,836.48 L958.0,835.43 L959.0,834.36 L960.0,833.29 L961.0,832.25 L962.0,831.21 L963.0,830.19 L964.0,829.15 L965.0,828.10 L966.0,827.01 L967.0,825.90 L968.0,824.76 L969.0,823.60 L970.0,822.40 L971.0,821.16 L972.0,819.86 L973.0,818.50 L974.0,817.12 L975.0,815.72 L976.0,814.34 L977.0,813.00 L978.0,811.71 L979.0,810.48 L980.0,809.29 L981.0,808.17 L982.0,807.11 L983.0,806.13 L984.0,805.14 L985.0,804.34 L986.0,803.57 L987.0,802.92 L988.0,802.47 L989.0,802.28 L989.5,802.26 L990.0,802.29 L991.0,802.50 L992.0,802.97 L993.0,803.65 L994.0,804.42 L995.0,805.27 L996.0,806.28 L997.0,807.92 L998.0,809.49 L999.0,811.33 L1000.0,813.44 L1001.0,815.84 L1002.0,818.51 L1003.0,821.41 L1004.0,824.49 L1005.0,827.69 L1006.0,830.93 L1007.0,834.17 L1008.0,837.36 L1009.0,840.47 L1010.0,843.48 L1011.0,846.38 L1012.0,849.15 L1013.0,851.80 L1014.0,854.35 L1015.0,856.83 L1016.0,859.27 L1017.0,861.69 L1018.0,864.11 L1019.0,866.49 L1020.0,868.84 L1021.0,871.14 L1022.0,873.39 L1023.0,875.60 L1024.0,877.76 L1025.0,879.88 L1026.0,881.95 L1027.0,883.93 L1028.0,885.80 L1029.0,887.50 L1030.0,889.02 L1031.0,890.40 L1032.0,891.66 L1033.0,892.85 L1034.0,893.99 L1035.0,895.09 L1036.0,896.14 L1037.0,897.15 L1038.0,898.13 L1039.0,899.07 L1040.0,900.00 L1041.0,900.93 L1042.0,901.80 L1043.0,902.60 L1044.0,903.35 L1045.0,904.06 L1046.0,904.75 L1047.0,905.44 L1048.0,906.13 L1049.0,906.81 L1050.0,907.46 L1051.0,908.07 L1052.0,908.63 L1053.0,909.14 L1054.0,909.63 L1055.0,910.11 L1056.0,910.59 L1057.0,911.06 L1058.0,911.53 L1059.0,911.98 L1060.0,912.39 L1061.0,912.76 L1062.0,913.09 L1063.0,913.40 L1064.0,913.70 L1065.0,914.00 L1066.0,914.30 L1067.0,914.60 L1068.0,914.90 L1069.0,915.20 L1070.0,915.50 L1071.0,915.80 L1072.0,916.09 L1073.0,916.38 L1074.0,916.67 L1075.0,916.95 L1076.0,917.23 L1077.0,917.52 L1078.0,917.80 L1079.0,918.08 L1080.0,918.37 L1081.0,918.65 L1082.0,918.93 L1083.0,919.22 L1084.0,919.50 L1085.0,919.78 L1086.0,920.06 L1087.0,920.34 L1088.0,920.61 L1089.0,920.87 L1090.0,921.09 L1091.0,921.29 L1092.0,921.48 L1093.0,921.66 L1094.0,921.84 L1095.0,922.02 L1096.0,922.19 L1097.0,922.37 L1098.0,922.55 L1099.0,922.73 L1100.0,922.91 L1101.0,923.08 L1102.0,923.26 L1103.0,923.44 L1104.0,923.62 L1105.0,923.79 L1106.0,923.96 L1107.0,924.12 L1108.0,924.27 L1109.0,924.42 L1110.0,924.56 L1111.0,924.70 L1112.0,924.84 L1113.0,924.97 L1114.0,925.11 L1115.0,925.25 L1116.0,925.39 L1117.0,925.53 L1118.0,925.67 L1119.0,925.81 L1120.0,925.95 L1121.0,926.08 L1122.0,926.22 L1123.0,926.36 L1124.0,926.50 L1125.0,926.63 L1126.0,926.77 L1127.0,926.90 L1128.0,927.03 L1129.0,927.16 L1130.0,927.30 L1131.0,927.43 L1132.0,927.56 L1133.0,927.70 L1134.0,927.83 L1135.0,927.96 L1136.0,928.10 L1137.0,928.23 L1138.0,928.36 L1139.0,928.49 L1140.0,928.62 L1141.0,928.74 L1142.0,928.86 L1143.0,928.96 L1144.0,929.06 L1145.0,929.16 L1146.0,929.26 L1147.0,929.36 L1148.0,929.45 L1149.0,929.55 L1150.0,929.65 L1151.0,929.75 L1152.0,929.85 L1153.0,929.94 L1154.0,930.04 L1155.0,930.14 L1156.0,930.24 L1157.0,930.33 L1158.0,930.42 L1159.0,930.49 L1160.0,930.56 L1161.0,930.62 L1162.0,930.67 L1163.0,930.72 L1164.0,930.78 L1165.0,930.83 L1166.0,930.88 L1167.0,930.93 L1168.0,930.98 L1169.0,931.04 L1170.0,931.09 L1171.0,931.14 L1172.0,931.19 L1173.0,931.24 L1174.0,931.30 L1175.0,931.35 L1176.0,931.41 L1177.0,931.47 L1178.0,931.54 L1179.0,931.61 L1180.0,931.68 L1181.0,931.75 L1182.0,931.82 L1183.0,931.89 L1184.0,931.95 L1185.0,932.02 L1186.0,932.09 L1187.0,932.16 L1188.0,932.23 L1189.0,932.30 L1190.0,932.37 L1191.0,932.44 L1192.0,932.51 L1193.0,932.57 L1194.0,932.62 L1195.0,932.68 L1196.0,932.72 L1197.0,932.77 L1198.0,932.82 L1199.0,932.86 L1200.0,932.91 L1201.0,932.95 L1202.0,933.00 L1203.0,933.05 L1204.0,933.09 L1205.0,933.14 L1206.0,933.18 L1207.0,933.23 L1208.0,933.28 L1209.0,933.32 L1210.0,933.37 L1211.0,933.41 L1212.0,933.45 L1213.0,933.49 L1214.0,933.53 L1215.0,933.57 L1216.0,933.61 L1217.0,933.65 L1218.0,933.70" fill="none" stroke="url(#g2)" stroke-width="1.3" stroke-opacity="0.55" stroke-linejoin="round"/>
<!-- x axis -->
<rect x="108.5" y="935" width="1242" height="5" fill="#000"/>
<rect x="108.5" y="919" width="5.2" height="37" fill="#000"/>
<rect x="419.8" y="919" width="4.9" height="37" fill="#000"/>
<rect x="727.9" y="919" width="4.9" height="37" fill="#000"/>
<rect x="1035.9" y="919" width="4.9" height="37" fill="#000"/>
<!-- y axis -->
<rect x="1345.6" y="518" width="5.2" height="438" fill="#000"/>
<rect x="1328.6" y="518" width="36.4" height="5" fill="#000"/>
<rect x="1328.6" y="726" width="36.4" height="4.8" fill="#000"/>
<rect x="1328.6" y="935" width="36.4" height="4.8" fill="#000"/>
<text x="159.20" y="1017.00" font-size="53.00" textLength="47.81" lengthAdjust="spacingAndGlyphs" stroke="#000" stroke-width="1.10">WL</text>
<text x="229.60" y="1017.00" font-size="50.05" textLength="51.55" lengthAdjust="spacingAndGlyphs" stroke="#000" stroke-width="0.90">nm</text>
<text x="882.80" y="522.30" font-size="50.10" textLength="58.09" lengthAdjust="spacingAndGlyphs" stroke="#000" stroke-width="1.30">SPD</text>
<text x="1145.00" y="521.50" font-size="50.29" textLength="57.06" lengthAdjust="spacingAndGlyphs" stroke="#000" stroke-width="1.30">mW</text>
<text x="1236.00" y="522.50" font-size="49.32" textLength="49.33" lengthAdjust="spacingAndGlyphs" stroke="#000" stroke-width="1.10">nm</text>
<path d="M73.1,964.4 L73.1,964.4 A12.1,12 0 0 1 85.2,976.4 L85.2,980.8 A12.1,12 0 0 1 73.1,992.8 L73.1,992.8 A12.1,12 0 0 1 61,980.8 L61,976.4 A12.1,12 0 0 1 73.1,964.4 Z M73.2,971.8 L73.2,971.8 A4.4,4.5 0 0 1 77.6,976.3 L77.6,982.1 A4.4,4.5 0 0 1 73.2,986.6 L73.2,986.6 A4.4,4.5 0 0 1 68.8,982.1 L68.8,976.3 A4.4,4.5 0 0 1 73.2,971.8 Z" fill-rule="evenodd"/><path d="M73.3,986.6 L73.3,986.6 A12.3,12 0 0 1 85.6,998.6 L85.6,1006 A12.3,12 0 0 1 73.3,1018 L73.3,1018 A12.3,12 0 0 1 61,1006 L61,998.6 A12.3,12 0 0 1 73.3,986.6 Z M73,992.8 L73,992.8 A4.2,4.6 0 0 1 77.2,997.4 L77.2,1006.4 A4.2,4.6 0 0 1 73,1011 L73,1011 A4.2,4.6 0 0 1 68.8,1006.4 L68.8,997.4 A4.2,4.6 0 0 1 73,992.8 Z" fill-rule="evenodd"/><path fill="#fff" d="M59.5,980.6 L70.2,980.6 L70.2,986.6 L59.5,986.6 Z M59.5,986.6 L69.1,986.6 L69.1,992.8 L59.5,992.8 Z M59.5,992.8 L70.2,992.8 L70.2,1000.4 L59.5,1000.4 Z"/>
<path d="M91,982.8 L91,976.4 A11.9,12 0 0 1 114.8,976.4 L114.8,982 L113.8,986 L111.6,990 L108.4,994 L105,998 L102,1002 L100,1006 L99.2,1009.8 L114.2,1009.8 L114.2,1017.2 L91,1017.2 L91,1010 L91.4,1006 L92.8,1002 L95.2,998 L98.8,994 L102.8,990 L105.6,986 L106.6,981.2 L106.6,976.4 A4.3,4.6 0 0 0 98,976.4 L98,982.8 Z"/>
<path d="M132.4,964.4 L132.4,964.4 A12.5,12 0 0 1 144.9,976.4 L144.9,1006 A12.5,12 0 0 1 132.4,1018 L132.4,1018 A12.5,12 0 0 1 119.9,1006 L119.9,976.4 A12.5,12 0 0 1 132.4,964.4 Z M132.5,971.9 L132.5,971.9 A4.5,4.8 0 0 1 137,976.7 L137,1006.2 A4.5,4.8 0 0 1 132.5,1011 L132.5,1011 A4.5,4.8 0 0 1 128,1006.2 L128,976.7 A4.5,4.8 0 0 1 132.5,971.9 Z" fill-rule="evenodd"/>
<path d="M392.5,965.1 L401,965.1 L401,1000.5 L404.2,1000.5 L404.2,1007.5 L401,1007.5 L401,1017 L392.5,1017 L392.5,1007.5 L376.6,1007.5 L376.6,1000.5 Z M384.9,1000.5 L392.5,1000.5 L392.5,980.9 Z" fill-rule="evenodd"/>
<path d="M422,965.1 L430.5,965.1 L430.5,1000.5 L433.3,1000.5 L433.3,1007.5 L430.5,1007.5 L430.5,1017 L422,1017 L422,1007.5 L406.1,1007.5 L406.1,1000.5 Z M414.4,1000.5 L422,1000.5 L422,980.9 Z" fill-rule="evenodd"/>
<path d="M448.85,964.4 L448.85,964.4 A12.65,12 0 0 1 461.5,976.4 L461.5,1006 A12.65,12 0 0 1 448.85,1018 L448.85,1018 A12.65,12 0 0 1 436.2,1006 L436.2,976.4 A12.65,12 0 0 1 448.85,964.4 Z M448.8,971.9 L449.1,971.9 A4.5,4.8 0 0 1 453.6,976.7 L453.6,1006.2 A4.5,4.8 0 0 1 449.1,1011 L448.8,1011 A4.5,4.8 0 0 1 444.3,1006.2 L444.3,976.7 A4.5,4.8 0 0 1 448.8,971.9 Z" fill-rule="evenodd"/>
<path d="M699.6,981.8 L699.6,981.8 A12.2,11.5 0 0 1 711.8,993.3 L711.8,1006.5 A12.2,11.5 0 0 1 699.6,1018 L699.6,1018 A12.2,11.5 0 0 1 687.4,1006.5 L687.4,993.3 A12.2,11.5 0 0 1 699.6,981.8 Z M699.7,989.1 L699.7,989.1 A4.1,4.5 0 0 1 703.8,993.6 L703.8,1006.2 A4.1,4.5 0 0 1 699.7,1010.7 L699.7,1010.7 A4.1,4.5 0 0 1 695.6,1006.2 L695.6,993.6 A4.1,4.5 0 0 1 699.7,989.1 Z" fill-rule="evenodd"/><path fill="#fff" d="M685.9,994.8 L696.9,994.8 L696.9,1000.5 L685.9,1000.5 Z"/><path d="M689,965.4 L710.2,965.4 L710.2,972 L696.2,972 L695.6,994.8 L688,994.8 Z"/>
<path d="M729.45,983.4 L729.45,983.4 A12.35,12 0 0 1 741.8,995.4 L741.8,1006 A12.35,12 0 0 1 729.45,1018 L729.45,1018 A12.35,12 0 0 1 717.1,1006 L717.1,995.4 A12.35,12 0 0 1 729.45,983.4 Z M729.3,991 L729.3,991 A4,4.5 0 0 1 733.3,995.5 L733.3,1006.5 A4,4.5 0 0 1 729.3,1011 L729.3,1011 A4,4.5 0 0 1 725.3,1006.5 L725.3,995.5 A4,4.5 0 0 1 729.3,991 Z" fill-rule="evenodd"/><path d="M717.1,1000.4 L717.1,976.4 A12.35,12 0 0 1 741.8,976.4 L741.8,979 L734.2,979 L734.2,976.4 A4.45,4.7 0 0 0 725.3,976.4 L725.3,1000.4 Z"/>
<path d="M758.8,964.4 L758.8,964.4 A12.5,12 0 0 1 771.3,976.4 L771.3,1006 A12.5,12 0 0 1 758.8,1018 L758.8,1018 A12.5,12 0 0 1 746.3,1006 L746.3,976.4 A12.5,12 0 0 1 758.8,964.4 Z M758.9,971.9 L758.9,971.9 A4.5,4.8 0 0 1 763.4,976.7 L763.4,1006.2 A4.5,4.8 0 0 1 758.9,1011 L758.9,1011 A4.5,4.8 0 0 1 754.4,1006.2 L754.4,976.7 A4.5,4.8 0 0 1 758.9,971.9 Z" fill-rule="evenodd"/>
<path d="M1008.5,983.4 L1008.5,983.4 A12.5,12 0 0 1 1021,995.4 L1021,1006 A12.5,12 0 0 1 1008.5,1018 L1008.5,1018 A12.5,12 0 0 1 996,1006 L996,995.4 A12.5,12 0 0 1 1008.5,983.4 Z M1008.35,991 L1008.35,991 A4.15,4.5 0 0 1 1012.5,995.5 L1012.5,1006.5 A4.15,4.5 0 0 1 1008.35,1011 L1008.35,1011 A4.15,4.5 0 0 1 1004.2,1006.5 L1004.2,995.5 A4.15,4.5 0 0 1 1008.35,991 Z" fill-rule="evenodd"/><path d="M996,1000.4 L996,976.4 A12.5,12 0 0 1 1021,976.4 L1021,979 L1013.4,979 L1013.4,976.4 A4.6,4.7 0 0 0 1004.2,976.4 L1004.2,1000.4 Z"/>
<path d="M1037.65,964.4 L1037.65,964.4 A11.75,11 0 0 1 1049.4,975.4 L1049.4,982.6 A11.75,11 0 0 1 1037.65,993.6 L1037.65,993.6 A11.75,11 0 0 1 1025.9,982.6 L1025.9,975.4 A11.75,11 0 0 1 1037.65,964.4 Z M1037.2,971.7 L1037.2,971.7 A4.2,4.4 0 0 1 1041.4,976.1 L1041.4,982.2 A4.2,4.4 0 0 1 1037.2,986.6 L1037.2,986.6 A4.2,4.4 0 0 1 1033,982.2 L1033,976.1 A4.2,4.4 0 0 1 1037.2,971.7 Z" fill-rule="evenodd"/><path d="M1037.65,986.6 L1037.65,986.6 A12.55,12 0 0 1 1050.2,998.6 L1050.2,1006 A12.55,12 0 0 1 1037.65,1018 L1037.65,1018 A12.55,12 0 0 1 1025.1,1006 L1025.1,998.6 A12.55,12 0 0 1 1037.65,986.6 Z M1037.2,993.6 L1037.2,993.6 A4.2,4.6 0 0 1 1041.4,998.2 L1041.4,1006.4 A4.2,4.6 0 0 1 1037.2,1011 L1037.2,1011 A4.2,4.6 0 0 1 1033,1006.4 L1033,998.2 A4.2,4.6 0 0 1 1037.2,993.6 Z" fill-rule="evenodd"/>
<path d="M1067.1,964.4 L1067.1,964.4 A12.5,12 0 0 1 1079.6,976.4 L1079.6,1006 A12.5,12 0 0 1 1067.1,1018 L1067.1,1018 A12.5,12 0 0 1 1054.6,1006 L1054.6,976.4 A12.5,12 0 0 1 1067.1,964.4 Z M1067.2,971.9 L1067.2,971.9 A4.5,4.8 0 0 1 1071.7,976.7 L1071.7,1006.2 A4.5,4.8 0 0 1 1067.2,1011 L1067.2,1011 A4.5,4.8 0 0 1 1062.7,1006.2 L1062.7,976.7 A4.5,4.8 0 0 1 1067.2,971.9 Z" fill-rule="evenodd"/>
<path d="M1318.35,964.4 L1318.35,964.4 A11.85,11 0 0 1 1330.2,975.4 L1330.2,982.6 A11.85,11 0 0 1 1318.35,993.6 L1318.35,993.6 A11.85,11 0 0 1 1306.5,982.6 L1306.5,975.4 A11.85,11 0 0 1 1318.35,964.4 Z M1317.9,971.7 L1317.9,971.7 A4.3,4.4 0 0 1 1322.2,976.1 L1322.2,982.2 A4.3,4.4 0 0 1 1317.9,986.6 L1317.9,986.6 A4.3,4.4 0 0 1 1313.6,982.2 L1313.6,976.1 A4.3,4.4 0 0 1 1317.9,971.7 Z" fill-rule="evenodd"/><path d="M1318.35,986.6 L1318.35,986.6 A12.65,12 0 0 1 1331,998.6 L1331,1006 A12.65,12 0 0 1 1318.35,1018 L1318.35,1018 A12.65,12 0 0 1 1305.7,1006 L1305.7,998.6 A12.65,12 0 0 1 1318.35,986.6 Z M1317.9,993.6 L1317.9,993.6 A4.3,4.6 0 0 1 1322.2,998.2 L1322.2,1006.4 A4.3,4.6 0 0 1 1317.9,1011 L1317.9,1011 A4.3,4.6 0 0 1 1313.6,1006.4 L1313.6,998.2 A4.3,4.6 0 0 1 1317.9,993.6 Z" fill-rule="evenodd"/>
<path d="M1347.45,964.4 L1347.45,964.4 A12.35,12 0 0 1 1359.8,976.4 L1359.8,1006 A12.35,12 0 0 1 1347.45,1018 L1347.45,1018 A12.35,12 0 0 1 1335.1,1006 L1335.1,976.4 A12.35,12 0 0 1 1347.45,964.4 Z M1347.55,971.9 L1347.55,971.9 A4.35,4.8 0 0 1 1351.9,976.7 L1351.9,1006.2 A4.35,4.8 0 0 1 1347.55,1011 L1347.55,1011 A4.35,4.8 0 0 1 1343.2,1006.2 L1343.2,976.7 A4.35,4.8 0 0 1 1347.55,971.9 Z" fill-rule="evenodd"/>
<path d="M1376.8,964.4 L1376.8,964.4 A12.5,12 0 0 1 1389.3,976.4 L1389.3,1006 A12.5,12 0 0 1 1376.8,1018 L1376.8,1018 A12.5,12 0 0 1 1364.3,1006 L1364.3,976.4 A12.5,12 0 0 1 1376.8,964.4 Z M1376.9,971.9 L1376.9,971.9 A4.5,4.8 0 0 1 1381.4,976.7 L1381.4,1006.2 A4.5,4.8 0 0 1 1376.9,1011 L1376.9,1011 A4.5,4.8 0 0 1 1372.4,1006.2 L1372.4,976.7 A4.5,4.8 0 0 1 1376.9,971.9 Z" fill-rule="evenodd"/>
<path d="M1383.7,700.4 L1383.7,700.4 A12.6,11.84 0 0 1 1396.3,712.24 L1396.3,741.46 A12.6,11.84 0 0 1 1383.7,753.3 L1383.7,753.3 A12.6,11.84 0 0 1 1371.1,741.46 L1371.1,712.24 A12.6,11.84 0 0 1 1383.7,700.4 Z M1383.54,707.8 L1384.06,707.8 A4.44,4.74 0 0 1 1388.5,712.54 L1388.5,741.65 A4.44,4.74 0 0 1 1384.06,746.39 L1383.54,746.39 A4.44,4.74 0 0 1 1379.09,741.65 L1379.09,712.54 A4.44,4.74 0 0 1 1383.54,707.8 Z" fill-rule="evenodd"/>
<path d="M1427.65,717.57 L1427.65,717.57 A12.35,11.35 0 0 1 1440,728.92 L1440,741.95 A12.35,11.35 0 0 1 1427.65,753.3 L1427.65,753.3 A12.35,11.35 0 0 1 1415.3,741.95 L1415.3,728.92 A12.35,11.35 0 0 1 1427.65,717.57 Z M1427.44,724.78 L1428.06,724.78 A4.05,4.44 0 0 1 1432.1,729.22 L1432.1,741.65 A4.05,4.44 0 0 1 1428.06,746.1 L1427.44,746.1 A4.05,4.44 0 0 1 1423.39,741.65 L1423.39,729.22 A4.05,4.44 0 0 1 1427.44,724.78 Z" fill-rule="evenodd"/><path fill="#fff" d="M1413.82,730.4 L1424.68,730.4 L1424.68,736.03 L1413.82,736.03 Z"/><path d="M1416.88,701.39 L1438.42,701.39 L1438.42,707.9 L1423.99,707.9 L1423.39,730.4 L1415.89,730.4 Z"/>
<path d="M1402,745 L1409.8,745 L1409.8,751.4 L1406.6,759.6 L1403,759.8 L1405.4,753 L1402.2,753 Z"/>
<path d="M1384.35,899.3 L1384.35,899.3 A12.65,11.96 0 0 1 1397,911.26 L1397,940.74 A12.65,11.96 0 0 1 1384.35,952.7 L1384.35,952.7 A12.65,11.96 0 0 1 1371.7,940.74 L1371.7,911.26 A12.65,11.96 0 0 1 1384.35,899.3 Z M1384.25,906.77 L1384.65,906.77 A4.48,4.78 0 0 1 1389.13,911.55 L1389.13,940.94 A4.48,4.78 0 0 1 1384.65,945.73 L1384.25,945.73 A4.48,4.78 0 0 1 1379.77,940.94 L1379.77,911.55 A4.48,4.78 0 0 1 1384.25,906.77 Z" fill-rule="evenodd"/>
<path d="M950.7,491.41 C953.19,491.04 955.48,489.26 956.72,486.4 L962.3,486.4 L962.3,523.5 L956.76,523.5 L956.76,495.6 L950.7,495.6 Z"/>
<path d="M985.35,486.4 L985.35,486.4 A8.65,8.31 0 0 1 994,494.71 L994,515.19 A8.65,8.31 0 0 1 985.35,523.5 L985.35,523.5 A8.65,8.31 0 0 1 976.7,515.19 L976.7,494.71 A8.65,8.31 0 0 1 985.35,486.4 Z M985.42,491.59 L985.42,491.59 A3.11,3.32 0 0 1 988.53,494.91 L988.53,515.33 A3.11,3.32 0 0 1 985.42,518.65 L985.42,518.65 A3.11,3.32 0 0 1 982.31,515.33 L982.31,494.91 A3.11,3.32 0 0 1 985.42,491.59 Z" fill-rule="evenodd"/>
<path d="M1016.7,491.41 C1019.19,491.04 1021.48,489.26 1022.72,486.4 L1028.3,486.4 L1028.3,523.5 L1022.76,523.5 L1022.76,495.6 L1016.7,495.6 Z"/>
<path d="M1041.15,486.4 L1041.65,486.4 A7.8,7.61 0 0 1 1049.45,494.01 L1049.45,499 A7.8,7.61 0 0 1 1041.65,506.61 L1041.15,506.61 A7.8,7.61 0 0 1 1033.35,499 L1033.35,494.01 A7.8,7.61 0 0 1 1041.15,486.4 Z M1041.09,491.45 L1041.09,491.45 A2.82,3.05 0 0 1 1043.91,494.5 L1043.91,498.72 A2.82,3.05 0 0 1 1041.09,501.77 L1041.09,501.77 A2.82,3.05 0 0 1 1038.27,498.72 L1038.27,494.5 A2.82,3.05 0 0 1 1041.09,491.45 Z" fill-rule="evenodd"/><path d="M1041.4,501.77 L1041.4,501.77 A8.6,8.31 0 0 1 1050,510.07 L1050,515.19 A8.6,8.31 0 0 1 1041.4,523.5 L1041.4,523.5 A8.6,8.31 0 0 1 1032.8,515.19 L1032.8,510.07 A8.6,8.31 0 0 1 1041.4,501.77 Z M1041.09,506.61 L1041.09,506.61 A2.82,3.18 0 0 1 1043.91,509.8 L1043.91,515.47 A2.82,3.18 0 0 1 1041.09,518.65 L1041.09,518.65 A2.82,3.18 0 0 1 1038.27,515.47 L1038.27,509.8 A2.82,3.18 0 0 1 1041.09,506.61 Z" fill-rule="evenodd"/>
<g transform="rotate(180 1061.9 504.95)"><path d="M1061.9,499.55 L1061.9,499.55 A8.6,8.31 0 0 1 1070.5,507.86 L1070.5,515.19 A8.6,8.31 0 0 1 1061.9,523.5 L1061.9,523.5 A8.6,8.31 0 0 1 1053.3,515.19 L1053.3,507.86 A8.6,8.31 0 0 1 1061.9,499.55 Z M1061.8,504.81 L1061.8,504.81 A2.82,3.11 0 0 1 1064.62,507.93 L1064.62,515.54 A2.82,3.11 0 0 1 1061.8,518.65 L1061.8,518.65 A2.82,3.11 0 0 1 1058.98,515.54 L1058.98,507.93 A2.82,3.11 0 0 1 1061.8,504.81 Z" fill-rule="evenodd"/><path d="M1053.3,511.32 L1053.3,494.71 A8.6,8.31 0 0 1 1070.5,494.71 L1070.5,496.51 L1065.24,496.51 L1065.24,494.71 A3.13,3.25 0 0 0 1058.98,494.71 L1058.98,511.32 Z"/></g>
<path d="M1091.25,486.4 L1091.37,486.4 A7.85,8.31 0 0 1 1099.22,494.71 L1099.22,497.75 A7.85,8.31 0 0 1 1091.37,506.06 L1091.25,506.06 A7.85,8.31 0 0 1 1083.4,497.75 L1083.4,494.71 A7.85,8.31 0 0 1 1091.25,486.4 Z M1091.38,491.52 L1091.38,491.52 A2.58,3.11 0 0 1 1093.96,494.64 L1093.96,498.65 A2.58,3.11 0 0 1 1091.38,501.77 L1091.38,501.77 A2.58,3.11 0 0 1 1088.8,498.65 L1088.8,494.64 A2.58,3.11 0 0 1 1091.38,491.52 Z" fill-rule="evenodd"/><path d="M1091.45,501.77 L1091.45,501.77 A8.05,8.31 0 0 1 1099.5,510.07 L1099.5,515.19 A8.05,8.31 0 0 1 1091.45,523.5 L1091.45,523.5 A8.05,8.31 0 0 1 1083.4,515.19 L1083.4,510.07 A8.05,8.31 0 0 1 1091.45,501.77 Z M1091.24,506.06 L1091.24,506.06 A2.44,3.18 0 0 1 1093.69,509.24 L1093.69,515.47 A2.44,3.18 0 0 1 1091.24,518.65 L1091.24,518.65 A2.44,3.18 0 0 1 1088.8,515.47 L1088.8,509.24 A2.44,3.18 0 0 1 1091.24,506.06 Z" fill-rule="evenodd"/><path fill="#fff" d="M1082.36,497.61 L1089.77,497.61 L1089.77,501.77 L1082.36,501.77 Z M1082.36,501.77 L1089.01,501.77 L1089.01,506.06 L1082.36,506.06 Z M1082.36,506.06 L1089.77,506.06 L1089.77,511.32 L1082.36,511.32 Z"/>
<path d="M1102.8,491.41 C1105.29,491.04 1107.58,489.26 1108.82,486.4 L1113.8,486.4 L1113.8,523.5 L1108.26,523.5 L1108.26,495.6 L1102.8,495.6 Z"/>
<path d="M1126.25,499.55 L1126.25,499.55 A8.45,8.31 0 0 1 1134.7,507.86 L1134.7,515.19 A8.45,8.31 0 0 1 1126.25,523.5 L1126.25,523.5 A8.45,8.31 0 0 1 1117.8,515.19 L1117.8,507.86 A8.45,8.31 0 0 1 1126.25,499.55 Z M1126.15,504.81 L1126.15,504.81 A2.67,3.11 0 0 1 1128.82,507.93 L1128.82,515.54 A2.67,3.11 0 0 1 1126.15,518.65 L1126.15,518.65 A2.67,3.11 0 0 1 1123.48,515.54 L1123.48,507.93 A2.67,3.11 0 0 1 1126.15,504.81 Z" fill-rule="evenodd"/><path d="M1117.8,511.32 L1117.8,494.71 A8.45,8.31 0 0 1 1134.7,494.71 L1134.7,496.51 L1129.44,496.51 L1129.44,494.71 A2.98,3.25 0 0 0 1123.48,494.71 L1123.48,511.32 Z"/>
<path d="M967,517.3 L972.7,517.3 L972.7,522.7 L967,522.7 Z"/>
<path d="M1073.8,517.2 L1079.7,517.2 L1079.7,522.7 L1073.8,522.7 Z"/>
<path d="M997.7,501.3 L1014.3,501.3 L1014.3,505.3 L997.7,505.3 Z M997.7,510 L1014.3,510 L1014.3,513.7 L997.7,513.7 Z"/>
<path d="M1217.5,487 L1222.8,487 L1210.3,527.8 L1205,527.8 Z M1230.5,487 L1235.8,487 L1223.8,527.8 L1218.5,527.8 Z" fill="#000"/>
<path d="M227.3,982.2 L225.2,982.2 Q220.2,982.2 220.2,987.5 L220.2,1014.8 Q220.2,1020 225.2,1020 L227.3,1020 M282,982.2 L284.2,982.2 Q289.2,982.2 289.2,987.5 L289.2,1014.8 Q289.2,1020 284.2,1020 L282,1020" fill="none" stroke="#000" stroke-width="4.8"/>
<path d="M1370.4,507 C1374,506.5 1377.3,504 1379.1,500 L1385,500 L1385,552 L1377,552 L1377,512.9 L1370.4,512.9 Z" fill="#000"/>
</svg>
</body></html>
